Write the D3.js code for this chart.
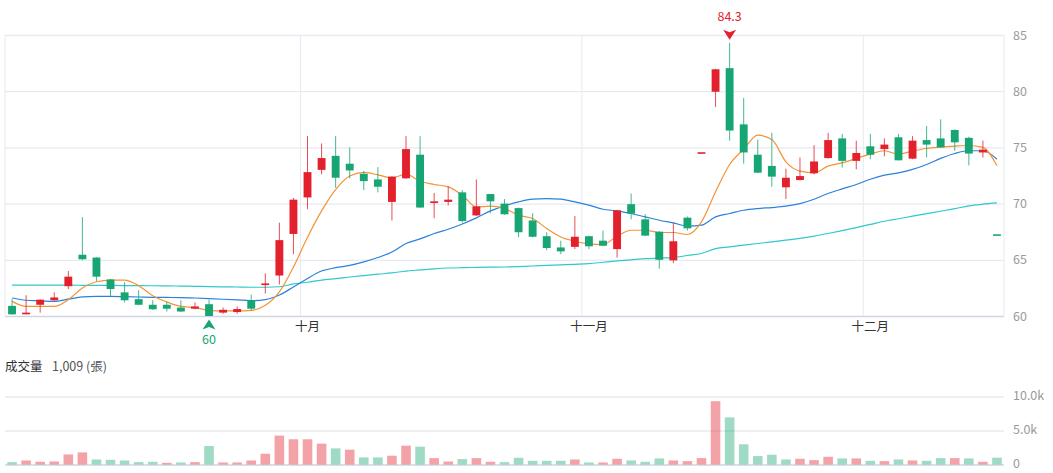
<!DOCTYPE html>
<html>
<head>
<meta charset="utf-8">
<script src="https://cdn.jsdelivr.net/npm/d3@7"></script>
<style>
  html, body { margin: 0; padding: 0; background: #fff; }
  text { font-family: "Noto Sans CJK TC", "Noto Sans", sans-serif; }
</style>
</head>
<body>
<div id="chart"></div>
<script>
// daily candles (71 trading days)
const opens  = [60.9,60.15,61.0,61.4,62.65,65.45,65.2,63.25,62.1,61.5,61.0,61.0,60.75,60.65,61.05,60.3,60.35,61.4,62.75,63.6,
                67.3,70.55,73.0,74.25,73.55,72.65,72.15,70.15,72.25,74.35,70.05,70.15,71.0,68.95,70.85,70.0,69.6,68.5,67.1,66.1,
                66.15,67.1,66.7,65.95,69.95,68.6,67.5,64.95,68.75,74.5,79.95,82.05,77.05,74.35,73.35,71.45,72.1,72.7,74.05,75.8,
                73.8,75.1,74.85,75.9,74.0,75.65,75.8,76.55,75.85,74.55,67.2];
const highs  = [61.5,61.85,61.5,62.1,64.0,68.8,65.25,63.3,63.0,62.3,61.4,61.3,61.4,61.2,61.45,60.75,60.85,61.9,63.8,68.3,
                70.5,76.0,75.35,76.0,75.0,72.9,73.25,72.45,76.0,76.0,70.95,71.55,71.2,72.15,70.85,70.4,69.65,69.15,67.45,66.7,
                68.9,67.15,67.6,69.45,70.9,69.05,67.55,68.3,68.85,74.5,82.0,84.3,79.4,75.7,76.3,73.1,74.1,75.2,76.3,76.2,
                75.6,76.2,75.8,76.2,76.0,76.9,77.5,76.6,75.95,75.6,67.2];
const lows   = [60.1,60.15,60.3,61.35,62.4,64.95,63.1,61.75,61.2,60.95,60.55,60.4,60.35,60.6,60.0,60.2,60.2,60.5,62.0,62.8,
                65.5,69.5,72.6,71.4,72.25,71.2,71.0,68.5,72.2,69.6,68.7,69.85,68.3,68.9,69.15,69.0,67.0,67.0,65.85,65.5,
                65.95,65.95,66.2,65.2,68.6,67.1,64.2,64.7,67.6,74.5,78.6,75.6,73.55,72.7,71.5,70.4,72.05,72.6,74.0,73.2,
                73.05,73.95,74.2,73.85,73.95,74.1,75.0,74.7,73.4,74.1,67.2];
const closes = [60.15,60.3,61.45,61.65,63.5,65.05,63.5,62.4,61.4,61.0,60.6,60.65,60.4,60.85,60.0,60.55,60.62,60.65,62.9,66.75,
                70.35,72.8,74.05,72.3,72.95,72.0,71.5,72.4,74.85,69.65,70.2,70.35,68.45,69.75,70.2,69.05,67.45,67.05,66.05,65.75,
                67.05,66.2,66.25,69.4,69.1,67.15,65.0,66.65,67.8,74.5,81.95,76.5,74.55,72.75,72.4,72.3,72.45,73.75,75.65,73.8,
                74.5,74.35,75.25,73.85,75.6,75.25,75.0,75.45,74.45,74.8,67.2];
// volume in 張
const volumes = [350,590,400,445,1480,1780,740,690,590,350,400,250,300,350,2720,300,300,590,1580,4250,
                 3710,3710,3070,2370,2180,1040,1040,1290,2770,2620,940,445,790,940,400,350,990,544,544,544,
                 742,297,297,841,594,396,891,594,495,940,9306,6930,2970,1238,1436,742,841,643,1138,891,
                 891,544,495,742,594,544,940,940,891,396,1009];
// moving averages as drawn
const ma5  = [61.3,60.85,60.85,60.85,61.45,62.5,63.05,63.2,63.2,62.7,61.8,61.25,60.85,60.75,60.5,60.45,60.45,60.5,60.95,62.15,
              64.35,67.0,69.35,71.25,72.45,72.77,72.56,72.29,72.62,71.99,71.7,71.49,70.75,69.7,69.77,69.56,68.97,68.67,67.78,67.03,
              66.65,66.41,66.36,67.1,67.63,67.63,67.43,67.43,67.25,68.37,71.05,73.48,74.84,76.09,75.7,73.72,72.89,72.74,73.33,73.63,
              74.02,74.4,74.7,74.4,74.67,74.9,75.02,75.11,75.17,75.0,73.36];
const ma20 = [61.6,61.4,61.35,61.3,61.5,61.7,61.75,61.75,61.72,61.69,61.66,61.65,61.64,61.6,61.55,61.49,61.43,61.37,61.46,61.87,
              62.58,63.33,64.0,64.3,64.5,64.81,65.2,65.7,66.45,66.86,67.34,67.72,68.19,68.73,69.35,69.8,70.15,70.39,70.45,70.39,
              70.15,69.86,69.5,69.35,69.12,68.82,68.52,68.28,68.0,68.08,68.82,69.12,69.41,69.56,69.65,69.77,70.0,70.39,70.9,71.31,
              71.7,72.17,72.53,72.74,73.04,73.48,74.02,74.46,74.7,74.7,73.95];
const ma60 = [62.75,62.75,62.75,62.74,62.74,62.73,62.72,62.72,62.71,62.7,62.69,62.68,62.66,62.64,62.62,62.6,62.58,62.56,62.56,62.6,
              62.85,63.0,63.2,63.33,63.47,63.6,63.72,63.83,64.0,64.1,64.2,64.27,64.3,64.32,64.34,64.36,64.4,64.45,64.5,64.55,
              64.6,64.66,64.78,64.9,65.0,65.1,65.15,65.2,65.38,65.56,66.0,66.15,66.3,66.45,66.6,66.75,66.9,67.1,67.34,67.6,
              67.87,68.15,68.43,68.65,68.88,69.1,69.32,69.55,69.8,69.95,70.06];

const priceTicks = [60, 65, 70, 75, 80, 85];
const volTicks = [0, 5000, 10000];
const monthStart = [21, 41, 61];
const monthLabels = ["十月", "十一月", "十二月"];

const width = 1053, height = 473;
const upColor = "#e3212d", downColor = "#17a673";
const gridColor = "#e7eaf1";

const svg = d3.select("#chart").append("svg")
    .attr("width", width)
    .attr("height", height);

const idx = d3.range(closes.length);
const x = d3.scaleBand().domain(idx).range([5, 1004]);
const y = d3.scaleLinear().domain([60, 85]).range([316, 35]);
const yVol = d3.scaleLinear().domain([0, 10000]).range([464.5, 396.5]);
const cx = i => x(i) + x.bandwidth() / 2;

// red = up, green = down (flat candles use the change from the day before)
const isUp = i => closes[i] > opens[i] ||
    (closes[i] === opens[i] && i > 0 && closes[i] >= closes[i - 1]);
const volUp = i => i === 0 ? isUp(0) : closes[i] >= closes[i - 1];

//price grid
const grid = svg.append("g")
    .attr("transform", "translate(5,0)")
    .call(d3.axisLeft(y).tickValues(priceTicks).tickSize(-999).tickFormat(""));
grid.select(".domain").remove();
grid.selectAll("line")
    .attr("stroke", d => d === 60 ? "#cfd5e1" : gridColor)
    .attr("stroke-width", 1.3);

//panel borders and month lines
svg.append("g").selectAll("line")
    .data([x(0), x.range()[1]].concat(monthStart.map(m => x(m))))
    .join("line")
      .attr("x1", d => d).attr("x2", d => d)
      .attr("y1", y(85)).attr("y2", y(60))
      .attr("stroke", gridColor);

//price labels
const yAxis = svg.append("g")
    .attr("transform", "translate(1004,0)")
    .call(d3.axisRight(y).tickValues(priceTicks).tickSize(0).tickPadding(9));
yAxis.select(".domain").remove();
yAxis.selectAll("text")
    .attr("font-size", 12.5)
    .attr("font-family", "'Noto Sans CJK TC', sans-serif")
    .attr("fill", "#999");

//month labels
const xAxis = svg.append("g")
    .attr("transform", `translate(0,${y(60)})`)
    .call(d3.axisBottom(x).tickValues(monthStart).tickSize(0).tickPadding(6)
        .tickFormat(d => monthLabels[monthStart.indexOf(d)]));
xAxis.select(".domain").remove();
xAxis.selectAll("text")
    .attr("font-size", 12.5)
    .attr("font-family", "'Noto Sans CJK TC', sans-serif")
    .attr("fill", "#333");

//moving averages
const maLine = d3.line()
    .x((d, i) => cx(i))
    .y(d => y(d))
    .curve(d3.curveMonotoneX);
[[ma60, "#2fc8cc"], [ma20, "#2a82da"], [ma5, "#f59234"]].forEach(([ma, color]) => {
    svg.append("path")
        .datum(ma)
        .attr("d", maLine)
        .attr("fill", "none")
        .attr("stroke", color)
        .attr("stroke-width", 1.2);
});

//candles
const candles = svg.append("g").selectAll("g")
    .data(idx)
    .join("g");
candles.append("line")
    .attr("x1", cx).attr("x2", cx)
    .attr("y1", i => y(highs[i]))
    .attr("y2", i => y(lows[i]))
    .attr("stroke", i => isUp(i) ? upColor : downColor)
    .attr("stroke-opacity", 0.8)
    .attr("stroke-width", 1);
const bodyW = x.bandwidth() * 0.56;
candles.append("rect")
    .attr("x", i => cx(i) - bodyW / 2)
    .attr("width", bodyW)
    .attr("y", i => y(Math.max(opens[i], closes[i])) - (opens[i] === closes[i] ? 0.8 : 0))
    .attr("height", i => Math.max(1.6, Math.abs(y(opens[i]) - y(closes[i]))))
    .attr("fill", i => isUp(i) ? upColor : downColor);

//high / low markers
const hi = d3.maxIndex(highs), lo = d3.minIndex(lows);
const hiTip = y(highs[hi]) - 3;
svg.append("path")
    .attr("d", "M0,0L-6.5,-10L0,-7.5L6.5,-10Z")
    .attr("transform", `translate(${cx(hi)},${hiTip})`)
    .attr("fill", upColor);
svg.append("text")
    .attr("x", cx(hi)).attr("y", hiTip - 18.5)
    .attr("text-anchor", "middle")
    .attr("font-size", 12.5)
    .attr("fill", upColor)
    .text(highs[hi]);
const loTip = y(lows[lo]) + 3.5;
svg.append("path")
    .attr("d", "M0,0L-6.5,10L0,7.5L6.5,10Z")
    .attr("transform", `translate(${cx(lo)},${loTip})`)
    .attr("fill", downColor);
svg.append("text")
    .attr("x", cx(lo)).attr("y", loTip + 24)
    .attr("text-anchor", "middle")
    .attr("font-size", 12.5)
    .attr("fill", downColor)
    .text(lows[lo]);

//volume title
const title = svg.append("text")
    .attr("x", 5).attr("y", 371)
    .attr("font-size", 12.5)
    .attr("fill", "#333");
title.append("tspan").text("成交量");
title.append("tspan")
    .attr("x", 52)
    .attr("fill", "#555")
    .text(`${d3.format(",")(volumes[volumes.length - 1])} (張)`);

//volume grid
const vgrid = svg.append("g")
    .attr("transform", "translate(5,0)")
    .call(d3.axisLeft(yVol).tickValues(volTicks).tickSize(-999).tickFormat(""));
vgrid.select(".domain").remove();
vgrid.selectAll("line")
    .attr("stroke", d => d === 0 ? "#cfd5e1" : gridColor)
    .attr("stroke-width", 1.3);

const vAxis = svg.append("g")
    .attr("transform", "translate(1004,-1)")
    .call(d3.axisRight(yVol).tickValues(volTicks).tickSize(0).tickPadding(9)
        .tickFormat(d => d === 0 ? "0" : (d / 1000).toFixed(1) + "k"));
vAxis.select(".domain").remove();
vAxis.selectAll("text")
    .attr("font-size", 12.5)
    .attr("font-family", "'Noto Sans CJK TC', sans-serif")
    .attr("fill", "#999");

//volume bars
const volW = x.bandwidth() * 0.68;
svg.append("g").selectAll("rect")
    .data(idx)
    .join("rect")
      .attr("x", i => cx(i) - volW / 2)
      .attr("width", volW)
      .attr("y", i => yVol(volumes[i]))
      .attr("height", i => yVol(0) - yVol(volumes[i]))
      .attr("fill", i => volUp(i) ? upColor : downColor)
      .attr("fill-opacity", 0.42);
</script>
</body>
</html>
